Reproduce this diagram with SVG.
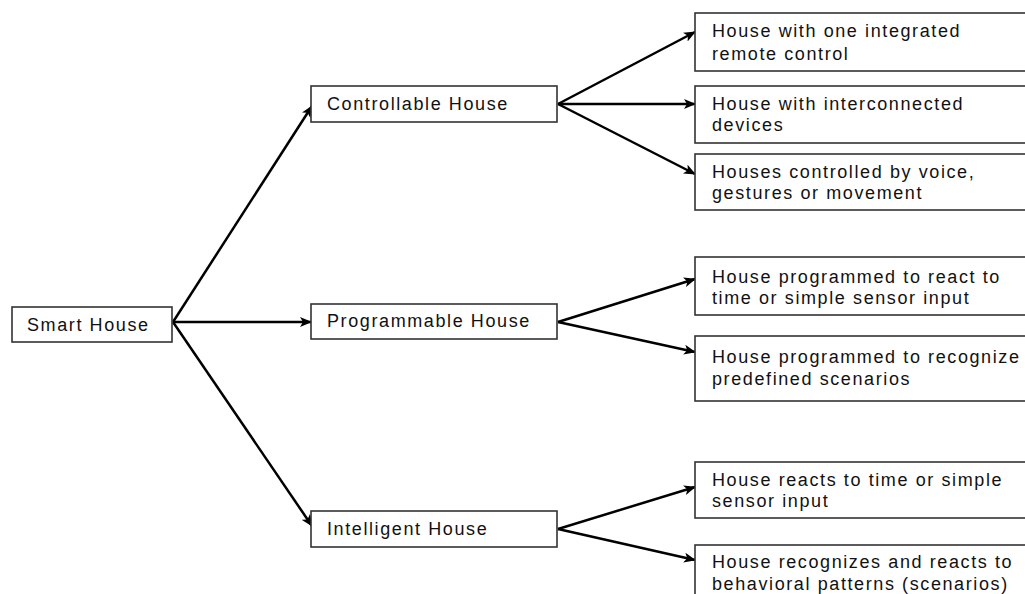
<svg xmlns="http://www.w3.org/2000/svg" width="1025" height="594" viewBox="0 0 1025 594">
<style>
.box{fill:#fff;stroke:#333;stroke-width:1.6}
.t{font-family:"Liberation Sans",Arial,sans-serif;font-size:18px;letter-spacing:1.6px;fill:#111}
.c{stroke:#000;stroke-width:2.5;fill:none;marker-end:url(#ah)}
</style>
<defs>
<marker id="ah" markerUnits="userSpaceOnUse" markerWidth="12" markerHeight="10" refX="11" refY="5" orient="auto">
<path d="M0,0 L12,5 L0,10 L3,5 Z" fill="#000"/>
</marker>
</defs>
<rect width="1025" height="594" fill="#fff"/>
<g id="connectors">
<line class="c" x1="173" y1="322" x2="312" y2="106"/>
<line class="c" x1="173" y1="322" x2="311" y2="322"/>
<line class="c" x1="173" y1="322" x2="312" y2="526"/>
<line class="c" x1="558" y1="104" x2="695" y2="32"/>
<line class="c" x1="558" y1="104" x2="695" y2="104"/>
<line class="c" x1="558" y1="104" x2="695" y2="174"/>
<line class="c" x1="558" y1="322" x2="695" y2="279"/>
<line class="c" x1="558" y1="322" x2="695" y2="352"/>
<line class="c" x1="558" y1="529" x2="695" y2="487"/>
<line class="c" x1="558" y1="529" x2="695" y2="560"/>
</g>
<g id="smart"><rect class="box" x="12" y="307" width="160" height="35"/><text class="t" x="27" y="331">Smart House</text></g>
<g id="controllable"><rect class="box" x="311" y="86" width="246" height="36"/><text class="t" x="327" y="110">Controllable House</text></g>
<g id="programmable"><rect class="box" x="311" y="304" width="246" height="35"/><text class="t" x="327" y="327">Programmable House</text></g>
<g id="intelligent"><rect class="box" x="311" y="511" width="246" height="36"/><text class="t" x="327" y="535">Intelligent House</text></g>
<g id="r1"><rect class="box" x="695" y="13" width="340" height="58"/><text class="t" x="712" y="37">House with one integrated</text><text class="t" x="712" y="60">remote control</text></g>
<g id="r2"><rect class="box" x="695" y="86" width="340" height="57"/><text class="t" x="712" y="110">House with interconnected</text><text class="t" x="712" y="131">devices</text></g>
<g id="r3"><rect class="box" x="695" y="154" width="340" height="56"/><text class="t" x="712" y="178">Houses controlled by voice,</text><text class="t" x="712" y="199">gestures or movement</text></g>
<g id="r4"><rect class="box" x="695" y="257" width="340" height="58"/><text class="t" x="712" y="283">House programmed to react to</text><text class="t" x="712" y="304">time or simple sensor input</text></g>
<g id="r5"><rect class="box" x="695" y="336" width="340" height="65"/><text class="t" x="712" y="363">House programmed to recognize</text><text class="t" x="712" y="385">predefined scenarios</text></g>
<g id="r6"><rect class="box" x="695" y="462" width="340" height="56"/><text class="t" x="712" y="486">House reacts to time or simple</text><text class="t" x="712" y="507">sensor input</text></g>
<g id="r7"><rect class="box" x="695" y="545" width="340" height="60"/><text class="t" x="712" y="568">House recognizes and reacts  to</text><text class="t" x="712" y="590">behavioral patterns (scenarios)</text></g>
</svg>
